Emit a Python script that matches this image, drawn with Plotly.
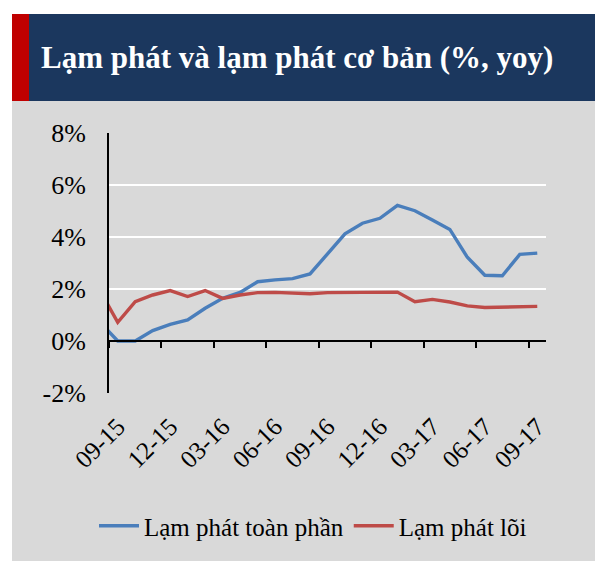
import plotly.graph_objects as go

# ---- data ----
months = ["08-15", "09-15", "10-15", "11-15", "12-15", "01-16", "02-16", "03-16", "04-16",
          "05-16", "06-16", "07-16", "08-16", "09-16", "10-16", "11-16", "12-16",
          "01-17", "02-17", "03-17", "04-17", "05-17", "06-17", "07-17", "08-17", "09-17"]
headline = [0.72, 0.00, 0.00, 0.40, 0.64, 0.81, 1.26, 1.64, 1.87, 2.28, 2.35, 2.40, 2.58,
            3.37, 4.12, 4.53, 4.72, 5.22, 5.01, 4.65, 4.29, 3.22, 2.53, 2.51, 3.33, 3.38]
core = [1.92, 0.72, 1.51, 1.77, 1.94, 1.71, 1.94, 1.64, 1.77, 1.86, 1.87, 1.86, 1.82,
        1.86, 1.86, 1.86, 1.86, 1.88, 1.51, 1.60, 1.50, 1.35, 1.29, 1.30, 1.31, 1.33]
y_ticks = [-2, 0, 2, 4, 6, 8]
y_tick_labels = ["-2%", "0%", "2%", "4%", "6%", "8%"]
title_text = "Lạm phát và lạm phát cơ bản (%, yoy)"
series_names = ["Lạm phát toàn phần", "Lạm phát lõi"]

# positions: first month sits one step before the visible axis start
xpos = list(range(-1, len(months) - 1))
label_idx = [i for i in range(0, 25, 3)]
label_text = [months[i + 1] for i in label_idx]

OFF = 8  # page body margin
W, H = 603 - OFF, 561 - OFF
L, R, T, B = 109, 546, 133, 393  # plot area in page coordinates
pw, ph = R - L, B - T

def px(x):
    return (x - L) / pw

def py(y):
    return (B - y) / ph

FONT = "Liberation Serif"
fig = go.Figure()
fig.add_trace(go.Scatter(x=xpos, y=headline, mode="lines", name=series_names[0],
                         line=dict(color="#4A7EBB", width=3.4), xaxis="x"))
fig.add_trace(go.Scatter(x=xpos, y=core, mode="lines", name=series_names[1],
                         line=dict(color="#BE4B48", width=3.4), xaxis="x2"))

shapes = [
    dict(type="rect", xref="paper", yref="paper", x0=px(-20), x1=px(12), y0=py(H + 40), y1=py(-20),
         fillcolor="white", line_width=0, layer="below"),
    dict(type="rect", xref="paper", yref="paper", x0=px(-20), x1=px(W + 40), y0=py(14), y1=py(-20),
         fillcolor="white", line_width=0, layer="below"),
    dict(type="rect", xref="paper", yref="paper", x0=px(12), x1=px(W + 40), y0=py(101), y1=py(14),
         fillcolor="#1B375E", line_width=0, layer="below"),
    dict(type="rect", xref="paper", yref="paper", x0=px(12), x1=px(29), y0=py(101), y1=py(14),
         fillcolor="#C00000", line_width=0, layer="below"),
]

fig.update_layout(
    width=W, height=H,
    margin=dict(l=L - OFF, r=W - (R - OFF), t=T - OFF, b=H - (B - OFF), pad=0,
                autoexpand=False),
    paper_bgcolor="#D9D9D9", plot_bgcolor="rgba(0,0,0,0)",
    font=dict(family=FONT, color="black", size=25),
    shapes=shapes,
    showlegend=True,
    legend=dict(orientation="h", x=px(313), xanchor="center", y=py(526), yanchor="middle",
                font=dict(size=25, family=FONT), bgcolor="rgba(0,0,0,0)", itemwidth=40,
                tracegroupgap=0),
    annotations=[dict(text="<b>" + title_text + "</b>", xref="paper", yref="paper",
                      x=px(39), y=py(58), xanchor="left", yanchor="middle", showarrow=False,
                      font=dict(family=FONT, size=31, color="white"))],
    xaxis=dict(range=[-0.5, 24.5], tickmode="array",
               tickvals=[i - 0.5 for i in label_idx], ticks="outside", ticklen=6, tickwidth=2,
               tickcolor="black", showticklabels=False, showline=True, linecolor="black",
               linewidth=2, showgrid=False, zeroline=False, anchor="free", position=py(341)),
    xaxis2=dict(range=[-0.5, 24.5], overlaying="x", anchor="y", side="bottom",
                tickmode="array", tickvals=label_idx, ticktext=label_text, tickangle=-45,
                ticks="", showline=False, showgrid=False, zeroline=False,
                tickfont=dict(size=25, family=FONT), ticklabelstandoff=13),
    yaxis=dict(range=[-2, 8], tickmode="array", tickvals=y_ticks, ticktext=y_tick_labels,
               showgrid=True, gridcolor="white", gridwidth=2, zeroline=False,
               showline=True, linecolor="black", linewidth=2, ticks="",
               tickfont=dict(size=26, family=FONT), ticklabelstandoff=16),
)

fig.write_html("out.html")
